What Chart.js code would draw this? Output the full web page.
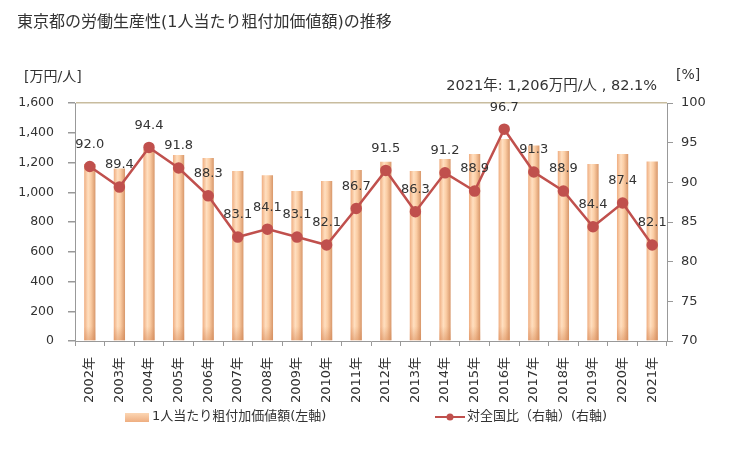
<!DOCTYPE html>
<html>
<head>
<meta charset="utf-8">
<script src="https://cdn.jsdelivr.net/npm/chart.js@4.4.1/dist/chart.umd.min.js"></script>
<style>
  html, body { margin: 0; padding: 0; background: #fff; }
  #wrap { width: 729px; height: 450px; position: relative; }
</style>
</head>
<body>
<div id="wrap"><canvas id="chart"></canvas></div>
<script>
// données du graphique
const annees = ['2002年','2003年','2004年','2005年','2006年','2007年','2008年','2009年','2010年','2011年',
  '2012年','2013年','2014年','2015年','2016年','2017年','2018年','2019年','2020年','2021年'];
const valeurAjoutee = [1190, 1160, 1288, 1250, 1230, 1143, 1114, 1008, 1075, 1150,
  1205, 1143, 1223, 1257, 1358, 1315, 1277, 1190, 1257, 1206];
const ratioNational = [92.0, 89.4, 94.4, 91.8, 88.3, 83.1, 84.1, 83.1, 82.1, 86.7,
  91.5, 86.3, 91.2, 88.9, 96.7, 91.3, 88.9, 84.4, 87.4, 82.1];

const police = '"DejaVu Sans", "Noto Sans CJK JP", sans-serif';
const texte = '#333333';

// Dégradé horizontal pour chaque barre
function degradeBarre(context) {
  const chart = context.chart;
  const xScale = chart.scales.x;
  if (!xScale || !chart.chartArea) return '#f8c9a0';
  const cx = xScale.getPixelForValue(context.dataIndex);
  const w = xScale.width / annees.length * 0.38;
  const g = chart.ctx.createLinearGradient(cx - w / 2, 0, cx + w / 2, 0);
  g.addColorStop(0, '#efad80');
  g.addColorStop(0.35, '#ffdfc0');
  g.addColorStop(0.6, '#fbcda4');
  g.addColorStop(1, '#d8976a');
  return g;
}

// Ombre en bas des barres
const ombre = {
  id: 'ombre',
  afterDatasetDraw(chart, args) {
    if (args.index !== 0) return;
    const ctx = chart.ctx;
    ctx.save();
    args.meta.data.forEach((bar) => {
      const h = 14;
      const g = ctx.createLinearGradient(0, bar.base - h, 0, bar.base);
      g.addColorStop(0, 'rgba(210,130,80,0)');
      g.addColorStop(1, 'rgba(210,130,80,0.45)');
      ctx.fillStyle = g;
      ctx.fillRect(bar.x - bar.width / 2, bar.base - h, bar.width, h);
    });
    ctx.restore();
  }
};

// Textes, étiquettes et légende
const decor = {
  id: 'decor',
  afterDatasetsDraw(chart) {
    const ctx = chart.ctx;
    ctx.save();
    ctx.fillStyle = texte;
    ctx.textBaseline = 'middle';

    // étiquettes de la courbe
    const meta = chart.getDatasetMeta(1);
    ctx.font = '13px ' + police;
    ctx.textAlign = 'center';
    meta.data.forEach((pt, i) => {
      ctx.fillText(ratioNational[i].toFixed(1), pt.x, pt.y - 22);
    });

    // titre et unités
    ctx.textAlign = 'left';
    ctx.font = '16px ' + police;
    ctx.fillText('東京都の労働生産性(1人当たり粗付加価値額)の推移', 17, 23);
    ctx.font = '14px ' + police;
    ctx.fillText('[万円/人]', 24, 77);
    ctx.fillText('[%]', 676, 75);
    ctx.textAlign = 'right';
    ctx.font = '14.5px ' + police;
    ctx.fillText('2021年: 1,206万円/人 , 82.1%', 657, 86);

    // légende
    ctx.textAlign = 'left';
    ctx.font = '13px ' + police;
    const g = ctx.createLinearGradient(0, 413, 0, 422);
    g.addColorStop(0, '#fcd6b4');
    g.addColorStop(1, '#eeae80');
    ctx.fillStyle = g;
    ctx.fillRect(125, 413, 24, 9);
    ctx.fillStyle = texte;
    ctx.fillText('1人当たり粗付加価値額(左軸)', 152, 417);

    ctx.strokeStyle = '#c0504d';
    ctx.lineWidth = 2;
    ctx.beginPath();
    ctx.moveTo(435, 417);
    ctx.lineTo(465, 417);
    ctx.stroke();
    ctx.fillStyle = '#c0504d';
    ctx.beginPath();
    ctx.arc(450, 417, 3.5, 0, Math.PI * 2);
    ctx.fill();
    ctx.fillStyle = texte;
    ctx.fillText('対全国比（右軸）(右軸)', 467, 417);
    ctx.restore();
  }
};

new Chart(document.getElementById('chart'), {
  data: {
    labels: annees,
    datasets: [
      {
        type: 'bar',
        label: '1人当たり粗付加価値額(左軸)',
        data: valeurAjoutee,
        yAxisID: 'y',
        backgroundColor: degradeBarre,
        borderWidth: 0,
        barPercentage: 0.38,
        categoryPercentage: 1,
        order: 2
      },
      {
        type: 'line',
        label: '対全国比（右軸）(右軸)',
        data: ratioNational,
        yAxisID: 'y1',
        borderColor: '#c0504d',
        backgroundColor: '#c0504d',
        borderWidth: 2.5,
        pointRadius: 4.5,
        pointHoverRadius: 4.5,
        tension: 0,
        order: 1
      }
    ]
  },
  options: {
    responsive: true,
    maintainAspectRatio: false,
    animation: false,
    layout: { padding: { top: 103, left: 0, right: 0, bottom: 0 } },
    plugins: {
      legend: { display: false },
      tooltip: { enabled: false }
    },
    scales: {
      x: {
        offset: true,
        grid: {
          offset: true,
          drawOnChartArea: false,
          drawTicks: true,
          tickLength: 5,
          color: '#999999'
        },
        border: { color: '#999999' },
        ticks: {
          color: texte,
          font: { family: police, size: 13 },
          maxRotation: 90,
          minRotation: 90,
          autoSkip: false,
          padding: 11
        },
        afterFit(scale) { scale.height = 109; }
      },
      y: {
        position: 'left',
        min: 0,
        max: 1600,
        grid: {
          color: (c) => c.tick && c.tick.value === 1600 ? '#c8bc9e' : 'rgba(0,0,0,0)',
          tickColor: '#999999',
          tickLength: 7,
          lineWidth: 1.5
        },
        border: { color: '#999999' },
        ticks: {
          stepSize: 200,
          color: texte,
          padding: 14,
          font: { family: police, size: 12.5 },
          callback: (v) => v.toLocaleString('en-US')
        },
        afterFit(scale) { scale.width = 75; }
      },
      y1: {
        position: 'right',
        min: 70,
        max: 100,
        grid: {
          drawOnChartArea: false,
          tickLength: 6,
          color: '#999999'
        },
        border: { color: '#999999' },
        ticks: {
          stepSize: 5,
          color: texte,
          padding: 8,
          font: { family: police, size: 13 },
        },
        afterFit(scale) { scale.width = 62; }
      }
    }
  },
  plugins: [ombre, decor]
});
</script>
</body>
</html>
